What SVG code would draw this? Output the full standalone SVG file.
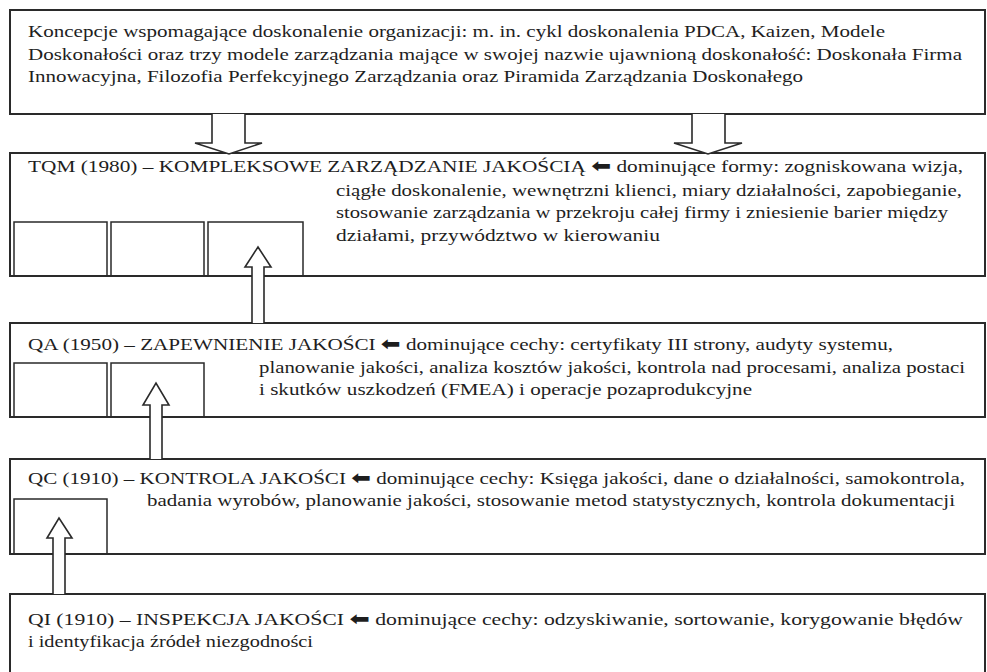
<svg xmlns="http://www.w3.org/2000/svg" width="987" height="672" viewBox="0 0 987 672">
<style>
.box{fill:#fff;stroke:#2a2a2a;stroke-width:2}
.sub{fill:none;stroke:#2a2a2a;stroke-width:1.5}
.arr{fill:#fff;stroke:#2a2a2a;stroke-width:1.6;stroke-linejoin:miter}
text{font-family:"Liberation Serif","Times New Roman",serif;font-size:17px;fill:#1e1e1e}
.sym{font-family:"DejaVu Sans",sans-serif;font-size:19px;font-weight:bold}
</style>
<rect width="987" height="672" fill="#fff"/>

<g id="concepts">
<rect class="box" x="10" y="10" width="975" height="104"/>
<text x="28" y="37" textLength="857" lengthAdjust="spacingAndGlyphs">Koncepcje wspomagające doskonalenie organizacji: m. in. cykl doskonalenia PDCA, Kaizen, Modele</text>
<text x="28" y="60" textLength="934" lengthAdjust="spacingAndGlyphs">Doskonałości oraz trzy modele zarządzania mające w swojej nazwie ujawnioną doskonałość: Doskonała Firma</text>
<text x="28" y="82" textLength="775" lengthAdjust="spacingAndGlyphs">Innowacyjna, Filozofia Perfekcyjnego Zarządzania oraz Piramida Zarządzania Doskonałego</text>
</g>

<g id="tqm">
<rect class="box" x="10" y="153" width="975" height="123"/>
<path class="sub" d="M14,276V222H107V276M111,276V222H204V276M208,276V222H303V276"/>
<text x="28" y="172" textLength="935" lengthAdjust="spacingAndGlyphs">TQM (1980) – KOMPLEKSOWE ZARZĄDZANIE JAKOŚCIĄ <tspan class="sym">⬅</tspan> dominujące formy: zogniskowana wizja,</text>
<text x="336" y="196" textLength="626" lengthAdjust="spacingAndGlyphs">ciągłe doskonalenie, wewnętrzni klienci, miary działalności, zapobieganie,</text>
<text x="336" y="218" textLength="612" lengthAdjust="spacingAndGlyphs">stosowanie zarządzania w przekroju całej firmy i zniesienie barier między</text>
<text x="336" y="241" textLength="324" lengthAdjust="spacingAndGlyphs">działami, przywództwo w kierowaniu</text>
</g>

<g id="qa">
<rect class="box" x="10" y="323" width="975" height="94"/>
<path class="sub" d="M14,417V363H107V417M111,417V363H204V417"/>
<text x="28" y="350" textLength="865" lengthAdjust="spacingAndGlyphs">QA (1950) – ZAPEWNIENIE JAKOŚCI <tspan class="sym">⬅</tspan> dominujące cechy: certyfikaty III strony, audyty systemu,</text>
<text x="259" y="373" textLength="706" lengthAdjust="spacingAndGlyphs">planowanie jakości, analiza kosztów jakości, kontrola nad procesami, analiza postaci</text>
<text x="259" y="395" textLength="493" lengthAdjust="spacingAndGlyphs">i skutków uszkodzeń (FMEA) i operacje pozaprodukcyjne</text>
</g>

<g id="qc">
<rect class="box" x="10" y="459" width="975" height="95"/>
<path class="sub" d="M14,554V499H107V554"/>
<text x="28" y="484" textLength="937" lengthAdjust="spacingAndGlyphs">QC (1910) – KONTROLA JAKOŚCI <tspan class="sym">⬅</tspan> dominujące cechy: Księga jakości, dane o działalności, samokontrola,</text>
<text x="147" y="506" textLength="808" lengthAdjust="spacingAndGlyphs">badania wyrobów, planowanie jakości, stosowanie metod statystycznych, kontrola dokumentacji</text>
</g>

<g id="qi">
<rect class="box" x="10" y="594" width="975" height="100"/>
<text x="28" y="625" textLength="935" lengthAdjust="spacingAndGlyphs">QI (1910) – INSPEKCJA JAKOŚCI <tspan class="sym">⬅</tspan> dominujące cechy: odzyskiwanie, sortowanie, korygowanie błędów</text>
<text x="28" y="647" textLength="285" lengthAdjust="spacingAndGlyphs">i identyfikacja źródeł niezgodności</text>
</g>

<g id="connectors">
<path class="arr" d="M212,114V143H195L229,154L262,143H245V114"/>
<path class="arr" d="M692,114V143H674L708,154L742,143H725V114"/>
<path class="arr" d="M252,323V267H245L258,247L271,267H264V323"/>
<path class="arr" d="M150,459V405H143L156,383L169,405H162V459"/>
<path class="arr" d="M53,594V538H47L59,518L72,538H65V594"/>
</g>
</svg>
